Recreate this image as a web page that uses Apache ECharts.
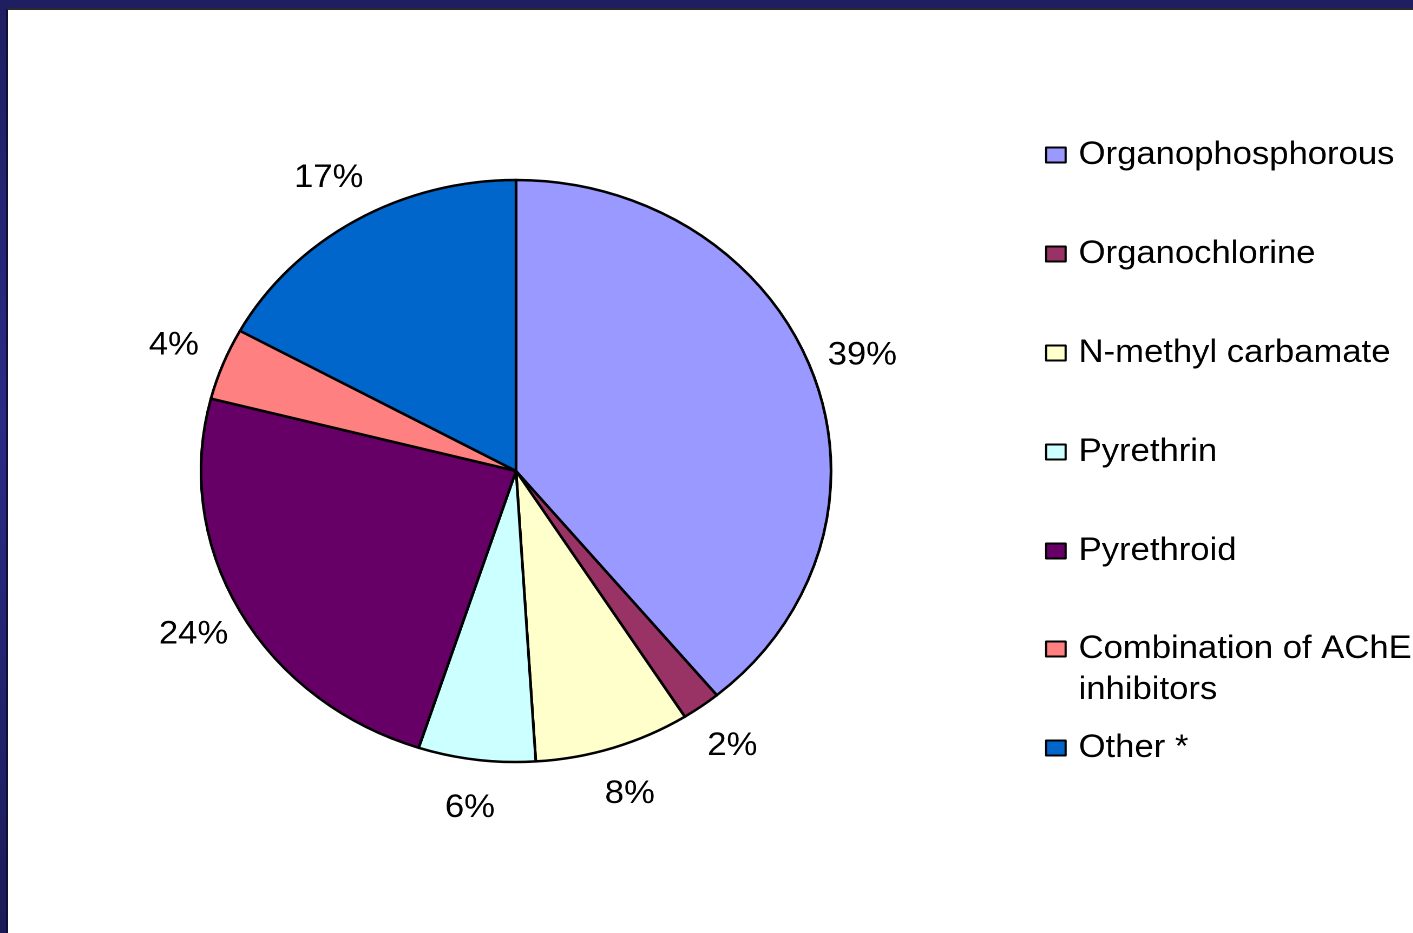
<!DOCTYPE html>
<html>
<head>
<meta charset="utf-8">
<title>Pesticide classes</title>
<script src="https://cdn.jsdelivr.net/npm/echarts@6/dist/echarts.min.js"></script>
<style>
  html, body { margin: 0; padding: 0; width: 1413px; height: 933px; overflow: hidden; }
  #frame {
    position: absolute; left: 0; top: 0; width: 1413px; height: 933px;
    background: linear-gradient(#1e1e60, #2b2b86 45%, #1b1b58);
  }
  #paper {
    position: absolute; left: 6px; top: 8px; width: 1407px; height: 925px;
    box-sizing: border-box; background: #ffffff;
    border-left: 2px solid #0f0f3a; border-top: 2px solid #2a2a2a;
  }
  /* the slide is shown slightly widened, so the chart is drawn narrow and stretched */
  #chart {
    position: absolute; left: 0; top: 0; width: 1305.3px; height: 933px;
    transform: scaleX(1.0825); transform-origin: 0 0;
  }
</style>
</head>
<body>
<div id="frame"></div>
<div id="paper"></div>
<div id="chart"></div>
<script>
// Pesticide classes, share of cases (%)
const categories = [
  'Organophosphorous',
  'Organochlorine',
  'N-methyl carbamate',
  'Pyrethrin',
  'Pyrethroid',
  'Combination of AChE inhibitors',
  'Other *'
];
const shares = [39, 2, 8, 6, 24, 4, 17];
const sliceColors = ['#9999FF', '#993366', '#FFFFCC', '#CCFFFF', '#660066', '#FF8080', '#0066CC'];

const FONT = "'Liberation Sans', Arial, sans-serif";
const center = [476.7, 471];
const R = 291;

const sliceData = categories.map((name, i) => ({
  name: name,
  value: shares[i],
  itemStyle: { color: sliceColors[i] }
}));

// transparent ring around the pie, used only to carry the percentage labels
const labelData = categories.map((name, i) => ({ name: name, value: shares[i] }));

const legendText = {
  color: '#000', fontFamily: FONT, fontSize: 32, lineHeight: 41, padding: [0, 0, 0, 7]
};
const legendBase = {
  orient: 'vertical', left: 965.4, padding: 0, itemGap: 58,
  itemWidth: 18, itemHeight: 15, icon: 'rect', selectedMode: false,
  itemStyle: { borderColor: '#000', borderWidth: 2 },
  textStyle: legendText
};

const chart = echarts.init(document.getElementById('chart'), null, { renderer: 'canvas', devicePixelRatio: 2 });
chart.setOption({
  backgroundColor: 'transparent',
  animation: false,
  legend: [
    Object.assign({}, legendBase, { top: 134.5, data: categories.slice(0, 5) }),
    // two-line entry: a blank first line keeps the marker beside the first text line
    Object.assign({}, legendBase, {
      top: 587.5, data: [categories[5]],
      formatter: n => ' \n' + n.replace(' inhibitors', '\ninhibitors')
    }),
    Object.assign({}, legendBase, { top: 727.5, data: [categories[6]] })
  ],
  series: [
    {
      type: 'pie',
      center: center,
      radius: [0, R],
      startAngle: 90,
      clockwise: true,
      silent: true,
      label: { show: false },
      labelLine: { show: false },
      itemStyle: { borderColor: '#000', borderWidth: 2.5 },
      data: sliceData
    },
    {
      type: 'pie',
      center: center,
      radius: [R, R + 92],
      startAngle: 90,
      clockwise: true,
      silent: true,
      itemStyle: { color: 'transparent', borderWidth: 0 },
      label: {
        show: true, position: 'inside',
        formatter: p => p.value + '%',
        color: '#000', fontFamily: FONT, fontSize: 32
      },
      labelLine: { show: false },
      data: labelData
    }
  ]
});
</script>
</body>
</html>
